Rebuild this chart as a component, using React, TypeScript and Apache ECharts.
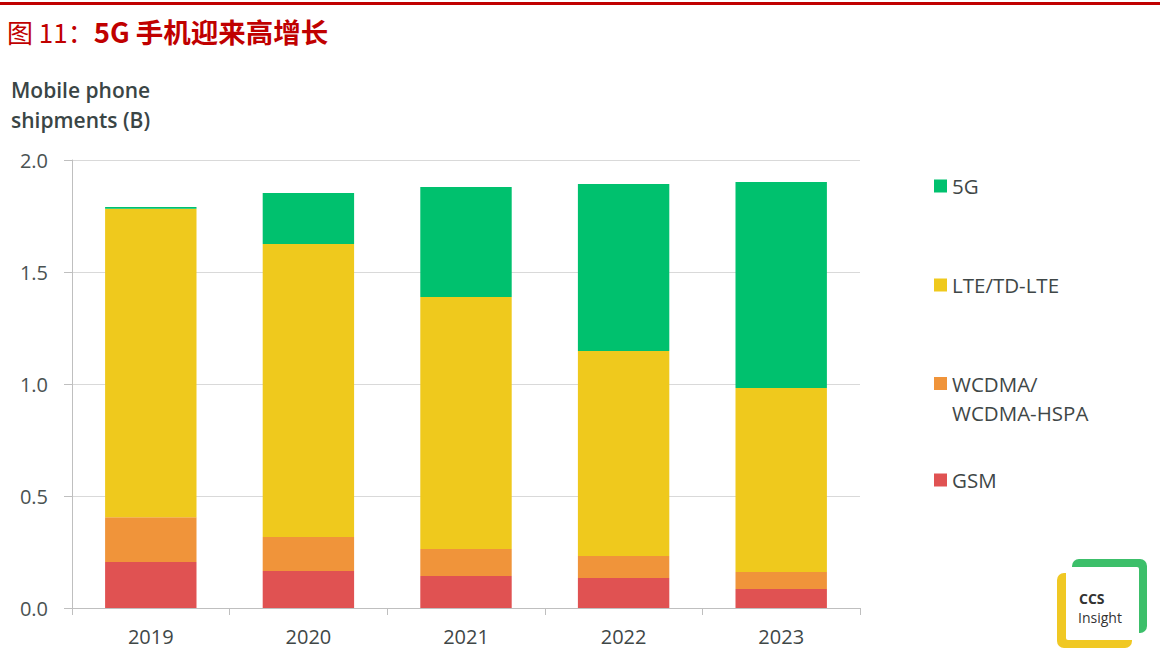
import React, { useEffect, useRef } from "react";
import * as echarts from "echarts";

const years = ["2019", "2020", "2021", "2022", "2023"];
const gsm = [0.205, 0.165, 0.143, 0.134, 0.085];
const wcdma = [0.2, 0.152, 0.12, 0.098, 0.076];
const lte = [1.377, 1.308, 1.125, 0.915, 0.821];
const fiveG = [0.008, 0.228, 0.491, 0.746, 0.92];
const yTicks = { min: 0, max: 2, interval: 0.5 };

const COLORS = {
  fiveG: "#00c16e",
  lte: "#efc91d",
  wcdma: "#f0943a",
  gsm: "#e05252",
};

const FONT = "'Open Sans', 'Noto Sans', sans-serif";

export default function App() {
  const ref = useRef<HTMLDivElement>(null);
  useEffect(() => {
    if (!ref.current) return;
    const chart = echarts.init(ref.current, null, { renderer: "svg" });
    const legendBase = {
      orient: "vertical",
      left: 934,
      padding: 0,
      itemWidth: 13,
      itemHeight: 13,
      itemGap: 0,
      icon: "rect",
      textStyle: { fontFamily: FONT, fontSize: 20.5, lineHeight: 24, color: "#3f4747" },
    };
    const option: any = {
      animation: false,
      backgroundColor: "#ffffff",
      textStyle: { fontFamily: FONT },
      grid: { left: 72, right: 300, top: 160, bottom: 52 },
      legend: [
        { ...legendBase, data: ["5G"], top: 174 },
        { ...legendBase, data: ["LTE/TD-LTE"], top: 273 },
        {
          ...legendBase,
          data: ["WCDMA/WCDMA-HSPA"],
          top: 340,
          formatter: () => "\nWCDMA/\nWCDMA-HSPA",
          textStyle: { ...legendBase.textStyle, lineHeight: 29 },
        },
        { ...legendBase, data: ["GSM"], top: 468 },
      ],
      xAxis: {
        type: "category",
        data: years,
        axisLine: { lineStyle: { color: "#bfbfbf", width: 1 } },
        axisTick: { show: true, length: 7, lineStyle: { color: "#bfbfbf" } },
        axisLabel: { color: "#3f4747", fontSize: 20, margin: 18, fontFamily: FONT },
      },
      yAxis: {
        type: "value",
        min: yTicks.min,
        max: yTicks.max,
        interval: yTicks.interval,
        axisLine: { show: true, lineStyle: { color: "#bfbfbf", width: 1 } },
        axisTick: { show: true, length: 8, lineStyle: { color: "#bfbfbf" } },
        splitLine: { lineStyle: { color: "#d9d9d9", width: 1 } },
        axisLabel: {
          color: "#4a5252",
          fontSize: 20,
          margin: 24,
          fontFamily: FONT,
          formatter: (v: number) => v.toFixed(1),
        },
      },
      series: [
        { name: "GSM", type: "bar", stack: "s", data: gsm, itemStyle: { color: COLORS.gsm }, barWidth: "58%" },
        { name: "WCDMA/WCDMA-HSPA", type: "bar", stack: "s", data: wcdma, itemStyle: { color: COLORS.wcdma } },
        { name: "LTE/TD-LTE", type: "bar", stack: "s", data: lte, itemStyle: { color: COLORS.lte } },
        { name: "5G", type: "bar", stack: "s", data: fiveG, itemStyle: { color: COLORS.fiveG } },
      ],
      graphic: [
        { type: "rect", shape: { x: 0, y: 2, width: 1160, height: 3 }, style: { fill: "#c00000" } },
        {
          type: "text",
          x: 7,
          y: 31,
          style: {
            text: "{a|图 11：}{b|5G 手机迎来高增长}",
            verticalAlign: "middle",
            rich: {
              a: { fontFamily: "'Noto Sans CJK SC', sans-serif", fontSize: 26, fill: "#c00000", fontWeight: "normal" },
              b: { fontFamily: "'Noto Sans CJK SC', sans-serif", fontSize: 27.5, fill: "#c00000", fontWeight: "bold" },
            },
          },
        },
        {
          type: "text",
          x: 11,
          y: 105,
          style: {
            text: "Mobile phone\nshipments (B)",
            fontFamily: FONT,
            fontSize: 21,
            fontWeight: 600,
            lineHeight: 30,
            fill: "#3a4545",
            verticalAlign: "middle",
          },
        },
        // CCS Insight logo
        { type: "rect", shape: { x: 1057, y: 573, width: 75, height: 75, r: 7 }, style: { fill: "#f0c823" } },
        { type: "rect", shape: { x: 1072, y: 559, width: 75, height: 74, r: 7 }, style: { fill: "#3cbf6a" } },
        { type: "rect", shape: { x: 1066, y: 567, width: 73, height: 73, r: 2 }, style: { fill: "#ffffff" } },
        {
          type: "text",
          x: 1079,
          y: 598,
          style: { text: "CCS", fontFamily: FONT, fontSize: 14, fontWeight: "bold", fill: "#333333", verticalAlign: "middle" },
        },
        {
          type: "text",
          x: 1078,
          y: 617,
          style: { text: "Insight", fontFamily: FONT, fontSize: 14, fill: "#333333", verticalAlign: "middle" },
        },
      ],
    };
    chart.setOption(option);
    return () => chart.dispose();
  }, []);
  return (
    <div
      ref={ref}
      style={{ position: "absolute", left: 0, top: 0, width: 1160, height: 660, background: "#fff" }}
    />
  );
}
